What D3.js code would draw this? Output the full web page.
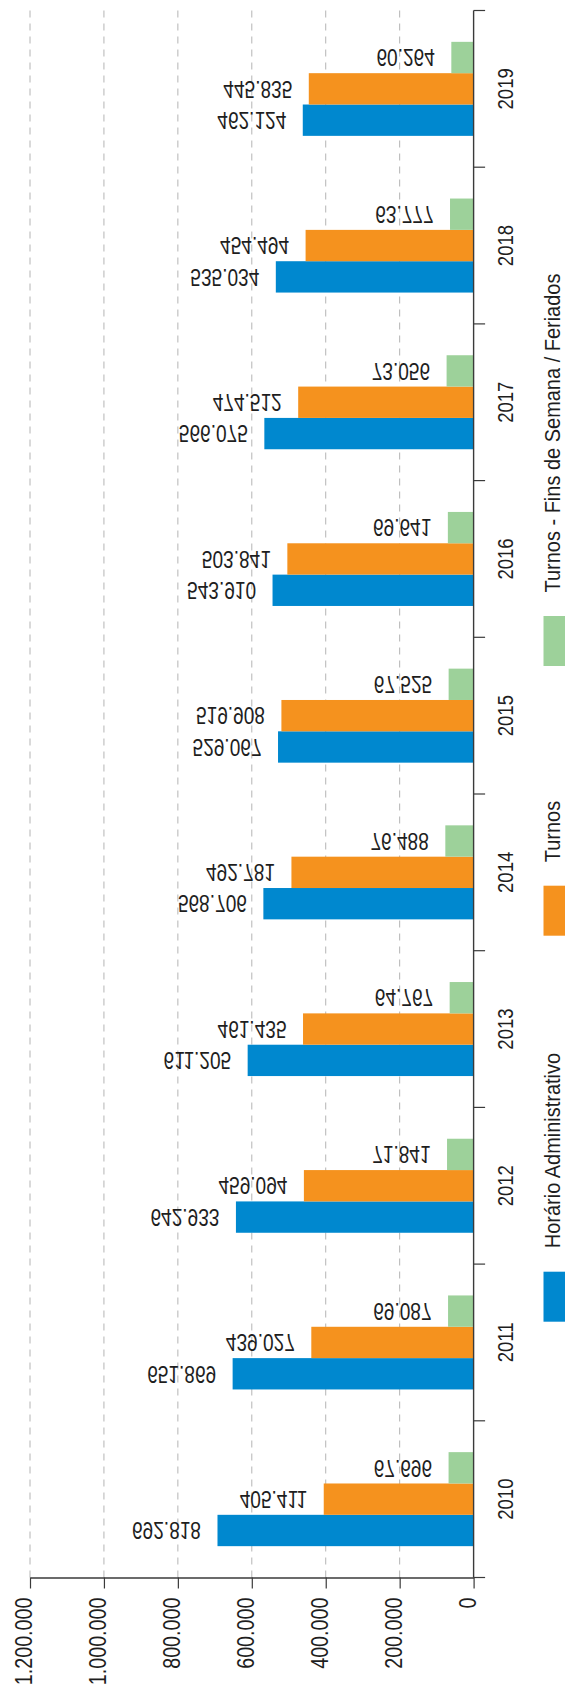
<!DOCTYPE html>
<html>
<head>
<meta charset="utf-8">
<script src="https://cdn.jsdelivr.net/npm/d3@7"></script>
<style>
  html, body { margin: 0; padding: 0; background: #fff; }
  svg { display: block; }
  text { font-family: "Liberation Sans", Arial, Helvetica, sans-serif; }
</style>
</head>
<body>
<svg id="chart" width="565" height="1688"></svg>
<script>
// ---- data ----
const years = ["2010","2011","2012","2013","2014","2015","2016","2017","2018","2019"];
const seriesNames = ["Horário Administrativo", "Turnos", "Turnos - Fins de Semana / Feriados"];
const seriesKeys = ["admin", "turnos", "fins"];
const admin  = [692818, 651869, 642933, 611205, 568706, 529067, 543910, 566075, 535034, 462124];
const turnos = [405411, 439027, 459094, 461435, 492781, 519908, 503841, 474512, 454494, 445835];
const fins   = [67696, 69087, 71841, 64767, 76488, 67525, 69641, 73056, 63777, 60264];
const valueTicks = [0, 200000, 400000, 600000, 800000, 1000000, 1200000];
const colors = ["#0088cf", "#f5921e", "#9dd19a"];

// ---- layout ----
const axisX0 = 473.6, axisX1 = 30;     // value 0 and max positions
const catTop = 10.5, catBottom = 1577.5;

const svg = d3.select("#chart");
const fmt = d3.formatLocale({decimal: ",", thousands: ".", grouping: [3], currency: ["", ""]}).format(",d");

const x = d3.scaleLinear().domain([0, 1200000]).range([axisX0, axisX1]);
const yBand = d3.scaleBand().domain(years).range([catBottom, catTop]).padding(0);
const bw = yBand.bandwidth();
// reversed so that the first series is lowest within each group
const innerRev = d3.scaleBand().domain(seriesKeys).range([bw * 0.8, bw * 0.2]).padding(0);

const seriesVals = { admin, turnos, fins };
const rows = [];
years.forEach((yr, i) => {
  seriesKeys.forEach((k, j) => rows.push({ year: yr, key: k, idx: j, value: seriesVals[k][i] }));
});

// gridlines
svg.append("g").selectAll("line").data(valueTicks.filter(v => v > 0)).join("line")
  .attr("x1", d => x(d)).attr("x2", d => x(d))
  .attr("y1", catTop).attr("y2", catBottom)
  .attr("stroke", "#b4b4b4").attr("stroke-width", 1).attr("stroke-dasharray", "7,6");

// bars
svg.append("g").selectAll("rect").data(rows).join("rect")
  .attr("x", d => x(d.value))
  .attr("width", d => x(0) - x(d.value))
  .attr("y", d => yBand(d.year) + innerRev(d.key))
  .attr("height", innerRev.bandwidth())
  .attr("fill", d => colors[d.idx]);

// value labels (vertically mirrored, as in the reference)
svg.append("g").selectAll("text").data(rows).join("text")
  .attr("transform", d => `translate(${x(d.value) - 16.5},${yBand(d.year) + innerRev(d.key) + innerRev.bandwidth() / 2}) scale(0.83,-1)`)
  .attr("dy", "0.36em")
  .attr("text-anchor", "end")
  .attr("font-size", 23)
  .attr("fill", "#1e1e1e")
  .text(d => fmt(d.value));

// value axis (original y axis, now at bottom)
const vAxis = svg.append("g").attr("transform", `translate(0,${catBottom})`)
  .call(d3.axisBottom(x).tickValues(valueTicks).tickSize(11).tickSizeOuter(0).tickFormat(fmt));
vAxis.select(".domain").attr("stroke", "#3a3a3a").attr("stroke-width", 1.4);
vAxis.selectAll(".tick line").attr("stroke", "#3a3a3a").attr("stroke-width", 1.2);
vAxis.attr("font-family", null).attr("font-size", null);
vAxis.selectAll(".tick text")
  .attr("x", 0).attr("y", 0).attr("dy", 0)
  .attr("text-anchor", "end")
  .attr("transform", "translate(1.5,20) rotate(-90) scale(0.84,1)")
  .attr("font-size", 23.5)
  .attr("fill", "#1e1e1e");

// category axis (original x axis, now at right)
const cat = svg.append("g");
cat.append("line").attr("x1", axisX0).attr("x2", axisX0).attr("y1", catTop).attr("y2", catBottom)
  .attr("stroke", "#3a3a3a").attr("stroke-width", 1.4);
const bounds = years.map(y => yBand(y)).concat([yBand(years[0]) + bw]);
cat.selectAll("line.tk").data(bounds).join("line").attr("class", "tk")
  .attr("x1", axisX0).attr("x2", axisX0 + 11.5)
  .attr("y1", d => d).attr("y2", d => d)
  .attr("stroke", "#3a3a3a").attr("stroke-width", 1.2);
cat.selectAll("text").data(years).join("text")
  .attr("transform", d => `translate(${axisX0 + 39.5},${yBand(d) + bw / 2}) rotate(-90) scale(0.82,1)`)
  .attr("text-anchor", "middle")
  .attr("font-size", 22.6)
  .attr("fill", "#1e1e1e")
  .text(d => d);

// legend (rotated)
const legendStarts = [1321.7, 935.7, 666]; // bottom edge of each legend swatch
const lg = svg.append("g");
seriesNames.forEach((name, i) => {
  lg.append("rect")
    .attr("x", 543.5).attr("width", 24)
    .attr("y", legendStarts[i] - 50).attr("height", 50)
    .attr("fill", colors[i]);
  lg.append("text")
    .attr("transform", `translate(559.8,${legendStarts[i] - 50 - 23.5}) rotate(-90) scale(0.9,1)`)
    .attr("text-anchor", "start")
    .attr("font-size", 22.2)
    .attr("fill", "#1e1e1e")
    .text(name);
});
</script>
</body>
</html>
